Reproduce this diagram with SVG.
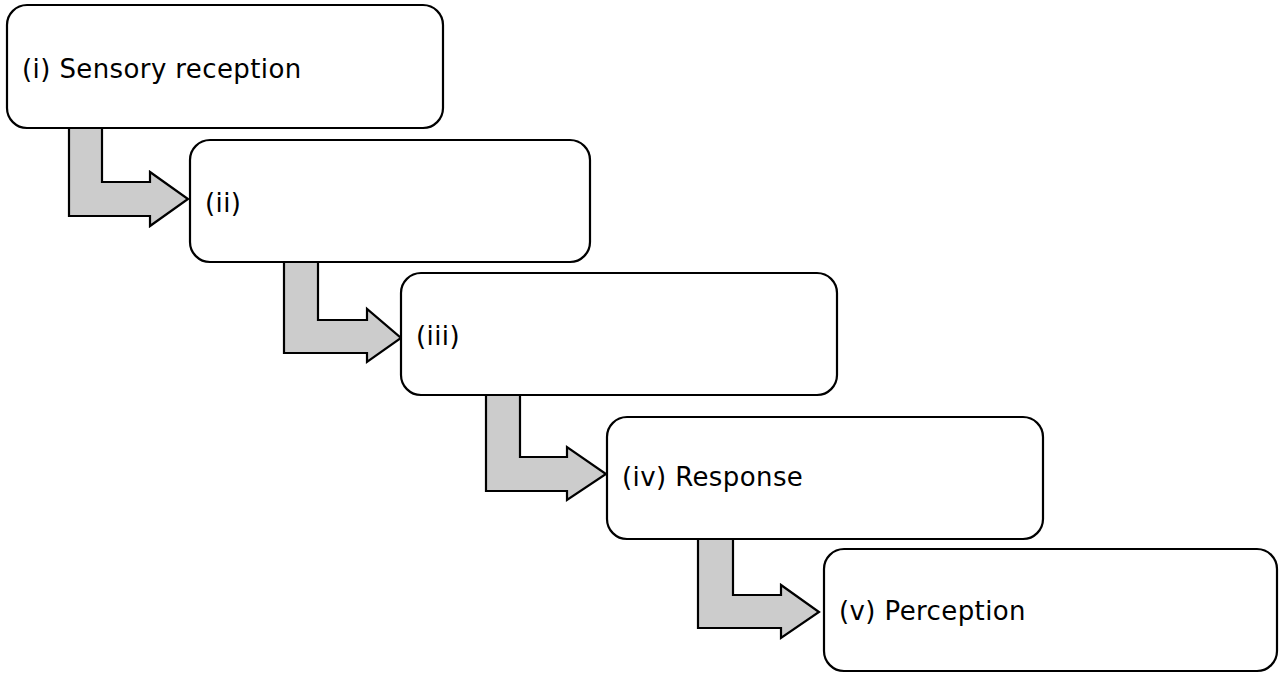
<svg xmlns="http://www.w3.org/2000/svg" width="1280" height="674" viewBox="0 0 1280 674">
<style>
.box{fill:#fff;stroke:#000;stroke-width:2.2}
.arr{fill:#cccccc;stroke:#000;stroke-width:2.2;stroke-linejoin:miter}
.t{font-family:"DejaVu Sans",Verdana,sans-serif;font-size:26px;letter-spacing:0.4px;fill:#000}
</style>
<rect width="1280" height="674" fill="#fff"/>
<g id="connectors">
<path class="arr" d="M69,128 H102 V182 H150 V172 L188,199 L150,226 V216 H69 Z"/>
<path class="arr" d="M284,262 H318 V320 H367 V309 L401,338 L367,362 V353 H284 Z"/>
<path class="arr" d="M486,395 H520 V457 H567 V447 L606,474 L567,500 V491 H486 Z"/>
<path class="arr" d="M698,539 H733 V595 H781 V585 L819,612 L781,638 V628 H698 Z"/>
</g>
<g id="n1"><rect class="box" x="7" y="5" width="436" height="123" rx="20"/><text class="t" x="22" y="78">(i) Sensory reception</text></g>
<g id="n2"><rect class="box" x="190" y="140" width="400" height="122" rx="20"/><text class="t" x="205" y="212">(ii)</text></g>
<g id="n3"><rect class="box" x="401" y="273" width="436" height="122" rx="20"/><text class="t" x="416" y="345">(iii)</text></g>
<g id="n4"><rect class="box" x="607" y="417" width="436" height="122" rx="20"/><text class="t" x="622" y="486">(iv) Response</text></g>
<g id="n5"><rect class="box" x="824" y="549" width="453" height="122" rx="20"/><text class="t" x="839" y="620">(v) Perception</text></g>
</svg>
